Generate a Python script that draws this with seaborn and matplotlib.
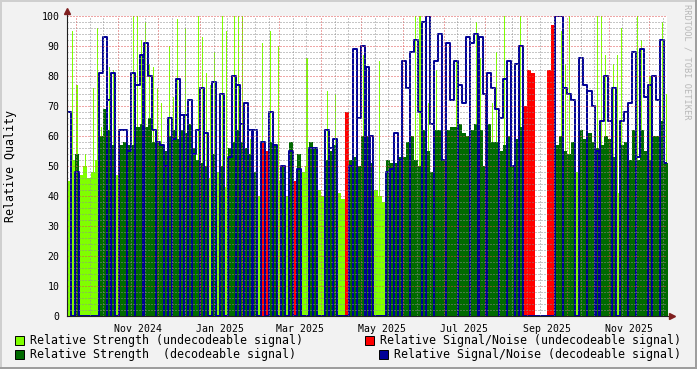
import numpy as np
import pandas as pd
import matplotlib
matplotlib.use("Agg")
import matplotlib.pyplot as plt
import matplotlib.dates as mdates
from matplotlib.patches import Rectangle
import seaborn as sns

# ---------------- data (3-day bins starting 2024-09-24) ----------------
start_date = "2024-09-24"
bin_days = 3
strength_undec = [45, 52, 0, 47, 50, 46, 48, 52, 0, 0, 0, 0, 47, 0, 0, 0, 0, 0, 0, 0,
                  0, 0, 0, 0, 0, 0, 0, 0, 0, 0, 0, 0, 0, 0, 0, 46, 0, 48, 0, 43,
                  0, 0, 0, 0, 0, 0, 0, 40, 0, 45, 0, 0, 45, 0, 40, 0, 45, 0, 48, 50,
                  0, 0, 42, 40, 0, 0, 0, 41, 39, 41, 0, 0, 0, 0, 0, 0, 42, 40, 38, 0,
                  0, 0, 0, 0, 0, 0, 0, 0, 0, 0, 0, 0, 0, 0, 0, 0, 0, 0, 0, 0,
                  0, 0, 0, 0, 0, 0, 0, 0, 0, 0, 0, 0, 0, 0, 0, 0, 0, 0, 0, 0,
                  0, 0, 0, 0, 0, 0, 48, 0, 0, 0, 0, 0, 0, 0, 0, 0, 41, 0, 0, 0,
                  0, 0, 0, 0, 0, 0, 0, 0, 0]
strength_dec = [0, 0, 54, 0, 0, 0, 0, 0, 60, 69, 62, 57, 0, 57, 58, 57, 57, 63, 64, 63,
                66, 58, 58, 57, 55, 60, 62, 59, 62, 61, 64, 56, 52, 51, 50, 0, 54, 0, 50, 0,
                56, 58, 62, 58, 56, 54, 48, 0, 54, 0, 58, 57, 0, 50, 0, 58, 0, 54, 0, 0,
                58, 56, 0, 0, 52, 55, 57, 0, 0, 0, 52, 53, 50, 60, 60, 51, 0, 0, 0, 52,
                51, 51, 53, 53, 58, 60, 52, 50, 62, 55, 48, 62, 62, 52, 62, 63, 63, 64, 61, 60,
                62, 64, 62, 50, 64, 58, 58, 55, 57, 60, 50, 59, 63, 0, 0, 0, 0, 0, 0, 0,
                0, 57, 60, 55, 54, 58, 0, 62, 59, 61, 58, 56, 57, 60, 59, 53, 0, 57, 58, 52,
                62, 52, 62, 55, 52, 60, 60, 65, 51]
snr_dec = [68, 0, 48, 0, 0, 0, 0, 0, 81, 93, 72, 81, 0, 62, 62, 55, 81, 77, 87, 91,
           80, 62, 58, 57, 50, 66, 59, 79, 67, 67, 72, 54, 62, 76, 61, 0, 78, 0, 74, 0,
           53, 80, 77, 64, 71, 62, 62, 0, 58, 0, 68, 57, 0, 50, 0, 55, 0, 49, 0, 0,
           56, 56, 0, 0, 62, 56, 59, 0, 0, 0, 50, 89, 66, 90, 83, 60, 0, 0, 0, 48,
           49, 61, 52, 85, 76, 88, 92, 68, 98, 100, 64, 85, 94, 52, 91, 72, 85, 77, 71, 93,
           91, 94, 93, 74, 81, 76, 69, 66, 79, 85, 50, 84, 90, 0, 0, 0, 0, 0, 0, 0,
           0, 100, 100, 76, 74, 72, 0, 86, 77, 75, 70, 55, 65, 80, 65, 76, 0, 65, 68, 71,
           88, 53, 89, 73, 77, 80, 72, 92, 51]
# bins at whose end the decodeable S/N briefly falls to zero (thin blue stripes)
snr_dec_dropout_bins = [9, 10, 14, 16, 18, 21, 23, 24, 25, 27, 28, 29, 30, 32, 33, 34, 36,
                        41, 42, 43, 44, 45, 50, 51, 53, 55, 57, 60, 61, 64, 65, 66, 70, 71,
                        73, 74, 75, 79, 80, 81, 82, 84, 87, 88, 90, 93, 96, 99, 101, 103,
                        106, 108, 110, 111, 112, 122, 125, 128, 130, 131, 134, 135, 138,
                        140, 143, 144, 146]
snr_undec = [0] * 48 + [58, 55] + [0] * 6 + [45] + [0] * 12 + [68] + [0] * 43 + \
            [70, 82, 81, 0, 0, 0, 82, 97] + [0] * 28
peak_undec = [0, 95, 77, 0, 54, 0, 76, 96, 63, 0, 83, 82, 0, 0, 0, 0, 100, 100, 92, 98,
              84, 83, 76, 71, 0, 90, 73, 99, 0, 96, 0, 0, 100, 93, 81, 77, 88, 0, 100, 95,
              0, 100, 100, 100, 0, 59, 0, 0, 91, 0, 95, 0, 90, 0, 0, 0, 0, 0, 0, 86,
              0, 0, 0, 0, 75, 0, 74, 0, 0, 0, 0, 0, 0, 87, 0, 0, 0, 85, 0, 0,
              0, 0, 0, 0, 0, 0, 100, 100, 0, 71, 0, 82, 0, 0, 0, 0, 85, 0, 0, 0,
              0, 98, 86, 0, 0, 71, 88, 0, 100, 0, 0, 0, 100, 0, 0, 0, 0, 0, 0, 33,
              0, 0, 95, 84, 100, 0, 0, 0, 0, 0, 0, 100, 100, 87, 0, 84, 87, 96, 0, 0,
              0, 100, 92, 0, 80, 0, 0, 98, 74]
month_labels = ["Nov 2024", "Jan 2025", "Mar 2025", "May 2025", "Jul 2025", "Sep 2025", "Nov 2025"]
legend_labels = ["Relative Strength (undecodeable signal)",
                 "Relative Strength  (decodeable signal)",
                 "Relative Signal/Noise (undecodeable signal)",
                 "Relative Signal/Noise (decodeable signal)"]

# ---------------- style ----------------
C_LG, C_DG, C_RD, C_BL = "#80FF00", "#006A00", "#FF0000", "#000096"
BG = "#F2F2F2"
AXIS = "#1F1F1F"
ARROW = "#801F1F"
MINOR_GRID = (0.56, 0.56, 0.56, 0.30)
MAJOR_GRID = (0.87, 0.31, 0.31, 0.38)
sns.set_style("white")
plt.rcParams["font.family"] = ["DejaVu Sans Mono"]
plt.rcParams["lines.scale_dashes"] = False

n = len(strength_undec)
t0 = pd.Timestamp(start_date)
edges = t0 + pd.to_timedelta(np.arange(n + 1) * bin_days, unit="D")
centers = t0 + pd.to_timedelta((np.arange(n) + 0.5) * bin_days, unit="D")

def ext(a):
    a = list(a)
    return np.array(a + [a[-1]], dtype=float)

# blue step series with very short zero dropouts
drop = set(snr_dec_dropout_bins)
bx, by = [], []
for i in range(n):
    bx.append(edges[i]); by.append(snr_dec[i])
    if i in drop:
        bx.append(edges[i + 1] - pd.Timedelta(days=0.1)); by.append(0.0)
bx.append(edges[n]); by.append(snr_dec[-1])
df_blue = pd.DataFrame({"t": bx, "v": by})

W, H = 697, 369
fig = plt.figure(figsize=(W / 100, H / 100), dpi=100, facecolor=BG)
ax = fig.add_axes([67 / W, 1 - 316 / H, 600 / W, 300 / H])
ax.set_facecolor("white")

# areas
ax.fill_between(edges, 0, ext(strength_undec), step="post", color=C_LG, lw=0, zorder=1.0)
ax.bar(centers, peak_undec, width=0.8, color=C_LG, lw=0, zorder=1.1)
ax.fill_between(edges, 0, ext(strength_dec), step="post", color=C_DG, lw=0, zorder=1.2)
ax.fill_between(edges, 0, ext(snr_undec), step="post", color=C_RD, lw=0, zorder=1.3)
sns.lineplot(data=df_blue, x="t", y="v", ax=ax, color=C_BL, lw=1.4, drawstyle="steps-post",
             estimator=None, sort=False, zorder=1.4)

# axes ranges: px 67 -> left, 1.3452 px/day
left = pd.Timestamp("2024-11-01") - pd.Timedelta(days=51 / 1.3452)
right = left + pd.Timedelta(days=600 / 1.3452)
ax.set_xlim(left, right)
ax.set_ylim(0, 100)

# grid (drawn above data, dotted like rrdtool)
ax.set_axisbelow(False)
ax.set_yticks(np.arange(0, 101, 10))
ax.set_yticks(np.arange(0, 101, 2), minor=True)
ax.xaxis.set_major_locator(mdates.MonthLocator())
ax.xaxis.set_minor_locator(mdates.DayLocator(bymonthday=[11, 21]))
ax.grid(which="minor", color=MINOR_GRID, lw=0.72, ls=(0, (0.72, 1.44)))
ax.grid(which="major", color=MAJOR_GRID, lw=0.72, ls=(0, (0.72, 1.44)))
ax.tick_params(axis="x", which="major", length=2.5, color=(0.87, 0.31, 0.31), labelbottom=False)
ax.tick_params(axis="x", which="minor", length=0)
ax.tick_params(axis="y", which="major", length=2, color=(0.87, 0.31, 0.31), pad=3.5,
               labelsize=7.1, labelcolor="black")
ax.tick_params(axis="y", which="minor", length=0)
ax.set_xlabel("")
ax.set_ylabel("")

for s in ["top", "right"]:
    ax.spines[s].set_visible(False)
for s in ["left", "bottom"]:
    ax.spines[s].set_color(AXIS)
    ax.spines[s].set_linewidth(0.8)
    ax.spines[s].set_zorder(3)

# month labels centered mid-month
for lab in month_labels:
    d = pd.Timestamp(lab) + pd.Timedelta(days=15)
    ax.text(mdates.date2num(d), -2.6, lab, ha="center", va="top", fontsize=7.1,
            color="black", transform=ax.transData, clip_on=False)

# axis arrows
ax.plot([1.0, 1.006], [0, 0], color=AXIS, lw=0.8, transform=ax.transAxes, clip_on=False)
ax.plot(1.0085, 0, marker=">", color=ARROW, ms=4, transform=ax.transAxes, clip_on=False)
ax.plot([0, 0], [1.0, 1.01], color=AXIS, lw=0.8, transform=ax.transAxes, clip_on=False)
ax.plot(0, 1.017, marker="^", color=ARROW, ms=4, transform=ax.transAxes, clip_on=False)

# y label
fig.text(11 / W, 1 - 166 / H, "Relative Quality", rotation=90, ha="center", va="center",
         fontsize=8.4, color="black")
# watermark
fig.text(687 / W, 1 - 62 / H, "RRDTOOL / TOBI OETIKER", rotation=270, ha="center",
         va="center", fontsize=6.2, color="#B8B8B8")

# legend
def legend_item(bx_, by_, color, text, tx, ha):
    fig.patches.append(Rectangle((bx_ / W, 1 - (by_ + 9) / H), 9 / W, 9 / H, transform=fig.transFigure,
                                 facecolor=color, edgecolor="black", lw=0.7))
    fig.text(tx / W, 1 - (by_ + 4.5) / H, text, ha=ha, va="center", fontsize=8.4, color="black")

legend_item(15, 336, C_LG, legend_labels[0], 30, "left")
legend_item(15, 350, C_DG, legend_labels[1], 30, "left")
legend_item(365, 336, C_RD, legend_labels[2], 681, "right")
legend_item(379, 350, C_BL, legend_labels[3], 681, "right")

# frame shading
fig.patches.append(Rectangle((0, 1 - 2 / H), 1, 2 / H, transform=fig.transFigure, color="#CFCFCF", lw=0))
fig.patches.append(Rectangle((0, 0), 2 / W, 1, transform=fig.transFigure, color="#CFCFCF", lw=0))
fig.patches.append(Rectangle((0, 0), 1, 2 / H, transform=fig.transFigure, color="#9E9E9E", lw=0))
fig.patches.append(Rectangle((1 - 2 / W, 0), 2 / W, 1, transform=fig.transFigure, color="#9E9E9E", lw=0))

fig.savefig("out.png", dpi=100, facecolor=BG)
